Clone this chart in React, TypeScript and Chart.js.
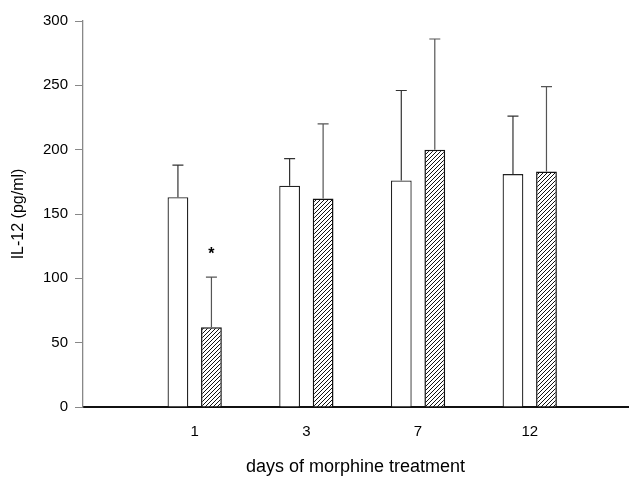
import React, { useEffect, useRef } from "react";
import { Chart, registerables } from "chart.js";

Chart.register(...registerables);

const dayLabels = ["1", "3", "7", "12"];
const controlMeans = [163, 172, 176, 181];
const controlSD = [25, 21, 70, 45];
const morphineMeans = [62, 162, 200, 183];
const morphineSD = [39, 58, 86, 66];
const morphineMarks = ["*", "", "", ""];

const FONT = '"Liberation Sans", Arial, sans-serif';

function makeHatch(): CanvasPattern | string {
  const c = document.createElement("canvas");
  c.width = 4;
  c.height = 4;
  const g = c.getContext("2d");
  if (!g) return "#fff";
  g.fillStyle = "#fff";
  g.fillRect(0, 0, 4, 4);
  g.strokeStyle = "#111";
  g.lineWidth = 1;
  g.beginPath();
  g.moveTo(0, 4);
  g.lineTo(4, 0);
  g.moveTo(-1, 1);
  g.lineTo(1, -1);
  g.moveTo(3, 5);
  g.lineTo(5, 3);
  g.stroke();
  const p = g.createPattern(c, "repeat");
  return p || "#fff";
}

const errorBarPlugin = {
  id: "errorBars",
  afterDatasetsDraw(chart: any) {
    const ctx = chart.ctx;
    const yScale = chart.scales.y;
    const sets = [
      { sd: controlSD, means: controlMeans, color: "#333", marks: null as string[] | null },
      { sd: morphineSD, means: morphineMeans, color: "#555", marks: morphineMarks },
    ];
    sets.forEach((s, di) => {
      const meta = chart.getDatasetMeta(di);
      meta.data.forEach((el: any, j: number) => {
        const x = el.x;
        const yTop = yScale.getPixelForValue(s.means[j]);
        const yCap = yScale.getPixelForValue(s.means[j] + s.sd[j]);
        ctx.save();
        ctx.strokeStyle = s.color;
        ctx.lineWidth = 1.2;
        ctx.beginPath();
        ctx.moveTo(x, yTop);
        ctx.lineTo(x, yCap);
        ctx.moveTo(x - 5.5, yCap);
        ctx.lineTo(x + 5.5, yCap);
        ctx.stroke();
        if (s.marks && s.marks[j]) {
          ctx.fillStyle = "#000";
          ctx.font = `bold 16px ${FONT}`;
          ctx.textAlign = "center";
          ctx.textBaseline = "middle";
          ctx.fillText(s.marks[j], x, yCap - 22);
        }
        ctx.restore();
      });
    });
  },
};

export default function App() {
  const ref = useRef<HTMLCanvasElement | null>(null);

  useEffect(() => {
    if (!ref.current) return;
    const hatch = makeHatch();
    const chart = new Chart(ref.current, {
      type: "bar",
      data: {
        datasets: [
          {
            label: "control",
            data: controlMeans.map((v, i) => ({ x: i + 1, y: v })),
            backgroundColor: "#fff",
            borderColor: "#222",
            borderWidth: 1.3,
            categoryPercentage: 0.6,
            barPercentage: 0.62,
          },
          {
            label: "morphine",
            data: morphineMeans.map((v, i) => ({ x: i + 1, y: v })),
            backgroundColor: hatch as any,
            borderColor: "#111",
            borderWidth: 1.5,
            categoryPercentage: 0.6,
            barPercentage: 0.62,
          },
        ],
      },
      options: {
        animation: false,
        responsive: false,
        layout: { padding: { top: 21, right: 3, left: 0, bottom: 0 } },
        plugins: { legend: { display: false }, tooltip: { enabled: false } },
        scales: {
          x: {
            type: "linear",
            min: 0,
            max: 4.88,
            offset: false,
            grid: { display: false, drawTicks: false, offset: false },
            border: { display: true, color: "#111", width: 2 },
            afterBuildTicks: (scale: any) => {
              scale.ticks = [1, 2, 3, 4].map((v) => ({ value: v }));
            },
            afterFit: (scale: any) => {
              scale.height = 75;
            },
            ticks: {
              autoSkip: false,
              padding: 16,
              color: "#000",
              font: { family: FONT, size: 15 },
              callback: (v: any) => dayLabels[Number(v) - 1] ?? "",
            },
            title: {
              display: true,
              text: "days of morphine treatment",
              color: "#000",
              font: { family: FONT, size: 18 },
              padding: { top: 0, bottom: 4 },
            },
          },
          y: {
            min: 0,
            max: 300,
            grid: {
              display: true,
              drawOnChartArea: false,
              drawTicks: true,
              tickLength: 8,
              color: "#888",
            },
            border: { display: true, color: "#888", width: 1.3 },
            afterFit: (scale: any) => {
              scale.width = 83;
            },
            ticks: {
              stepSize: 50,
              padding: 7,
              color: "#000",
              font: { family: FONT, size: 15 },
            },
            title: {
              display: true,
              text: "IL-12 (pg/ml)",
              color: "#000",
              font: { family: FONT, size: 16 },
              padding: { top: 9, bottom: 0 },
            },
          },
        },
      },
      plugins: [errorBarPlugin],
    } as any);
    return () => chart.destroy();
  }, []);

  return (
    <div style={{ position: "absolute", left: 0, top: 0, width: 631, height: 482, background: "#fff" }}>
      <canvas ref={ref} width={631} height={482} style={{ display: "block" }} />
    </div>
  );
}
